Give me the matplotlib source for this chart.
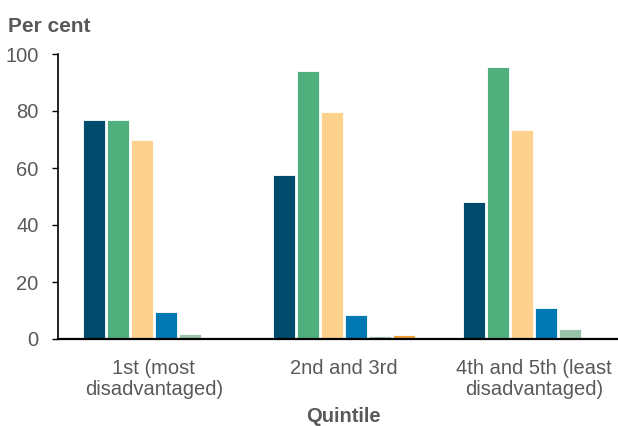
import matplotlib
matplotlib.use("Agg")
import matplotlib.pyplot as plt
import numpy as np

plt.rcParams['font.family'] = ['Liberation Sans', 'DejaVu Sans']

categories = ["1st (most\ndisadvantaged)", "2nd and 3rd", "4th and 5th (least\ndisadvantaged)"]
series_a = [77.0, 57.5, 48.0]
series_b = [76.8, 94.0, 95.4]
series_c = [70.0, 79.5, 73.4]
series_d = [9.5, 8.3, 11.0]
series_e = [1.8, 1.2, 3.6]
series_f = [0.3, 1.4, 0.5]
y_ticks = [0, 20, 40, 60, 80, 100]

series = [series_a, series_b, series_c, series_d, series_e, series_f]
colors = ["#004a6b", "#4fb07d", "#fed18c", "#0078b4", "#99c4aa", "#f0a033"]

fig = plt.figure(figsize=(6.18, 4.26), dpi=100)
ax = fig.add_axes([58 / 618, (426 - 339) / 426, 560 / 618, 285 / 426])

x = np.arange(len(categories))
step = 24 / 190
width = 22 / 190
for i, (vals, col) in enumerate(zip(series, colors)):
    ax.bar(x + (i - 2.5) * step, vals, width=width, color=col,
           edgecolor="white", linewidth=0.6, zorder=2)

ax.set_xlim(-0.503, 2.44)
ax.set_ylim(0, 100)
ax.set_yticks(y_ticks)
ax.set_xticks(x)
ax.set_xticklabels(categories, linespacing=1.1)

grey = "#595959"
ax.tick_params(axis="y", direction="out", length=4, width=1, color="black",
               labelsize=14.5, labelcolor=grey, pad=10)
ax.tick_params(axis="x", length=0, labelsize=14.5, labelcolor=grey, pad=14.5)

for s in ["top", "right"]:
    ax.spines[s].set_visible(False)
ax.spines["left"].set_color("black")
ax.spines["left"].set_linewidth(1.2)
ax.spines["bottom"].set_color("black")
ax.spines["bottom"].set_linewidth(1.6)
ax.spines["bottom"].set_zorder(3)

fig.text(8 / 618, 1 - 26 / 426, "Per cent", fontsize=15, fontweight="bold",
         color=grey, ha="left", va="center")
fig.text(343 / 618, 1 - 416 / 426, "Quintile", fontsize=14.5, fontweight="bold",
         color=grey, ha="center", va="center")

fig.savefig("out.png", dpi=100)
